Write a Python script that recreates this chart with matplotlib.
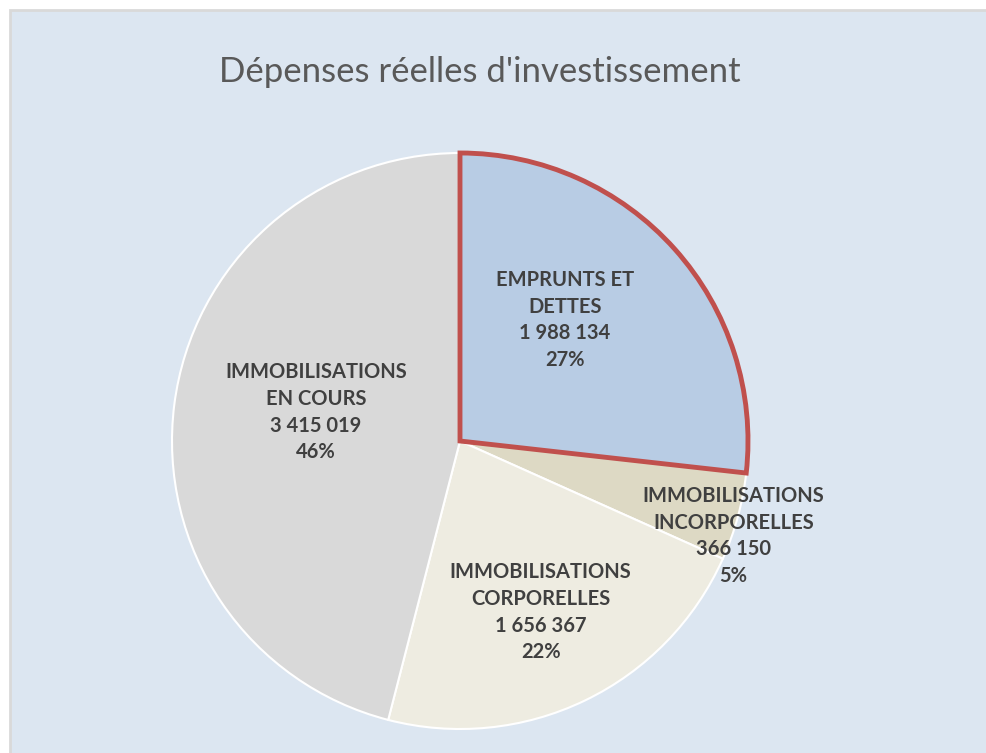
import matplotlib.pyplot as plt
from matplotlib.patches import Rectangle

names = ["EMPRUNTS ET\nDETTES", "IMMOBILISATIONS\nINCORPORELLES",
         "IMMOBILISATIONS\nCORPORELLES", "IMMOBILISATIONS\nEN COURS"]
values = [1988134, 366150, 1656367, 3415019]
colors = ["#b8cce4", "#ddd9c4", "#eeece1", "#d9d9d9"]
# label spots in data units (pie radius = 1)
label_xy = [(0.365, 0.42), (0.95, -0.33), (0.28, -0.595), (-0.50, 0.10)]

W, H = 986, 753
fig = plt.figure(figsize=(W / 100, H / 100), dpi=100)
fig.patch.set_facecolor("white")
fig.patches.append(Rectangle((10 / W, -0.1), 1.2, 1.1 + (H - 10) / H - 1, transform=fig.transFigure,
                             facecolor="#dce6f1", edgecolor="#d9d9d9", lw=2, zorder=-5))

cx, cy, r = 460, 441, 288
ax = fig.add_axes([(cx - r) / W, (H - cy - r) / H, 2 * r / W, 2 * r / H])
ax.set_facecolor("none")
ax.set_zorder(2)

wedges, _ = ax.pie(values, colors=colors, startangle=90, counterclock=False,
                   radius=1, wedgeprops=dict(edgecolor="white", linewidth=1.5))
wedges[0].set_edgecolor("#c0504d")
wedges[0].set_linewidth(3.5)
wedges[0].set_zorder(3)

total = sum(values)
for name, v, (x, y) in zip(names, values, label_xy):
    num = f"{v:,}".replace(",", " ")
    pct = f"{round(100 * v / total)}%"
    ax.text(x, y, f"{name}\n{num}\n{pct}", ha="center", va="center",
            fontsize=14.5, fontweight="bold", color="#404040", family="Lato",
            linespacing=1.42, zorder=5)

ax.set_xlim(-1, 1)
ax.set_ylim(-1, 1)
ax.set_aspect("equal")
ax.axis("off")

fig.text(480 / W, 1 - 72 / H, "Dépenses réelles d'investissement", ha="center", va="center",
         fontsize=25, color="#595959", family="Lato")

fig.savefig("out.png", dpi=100)
